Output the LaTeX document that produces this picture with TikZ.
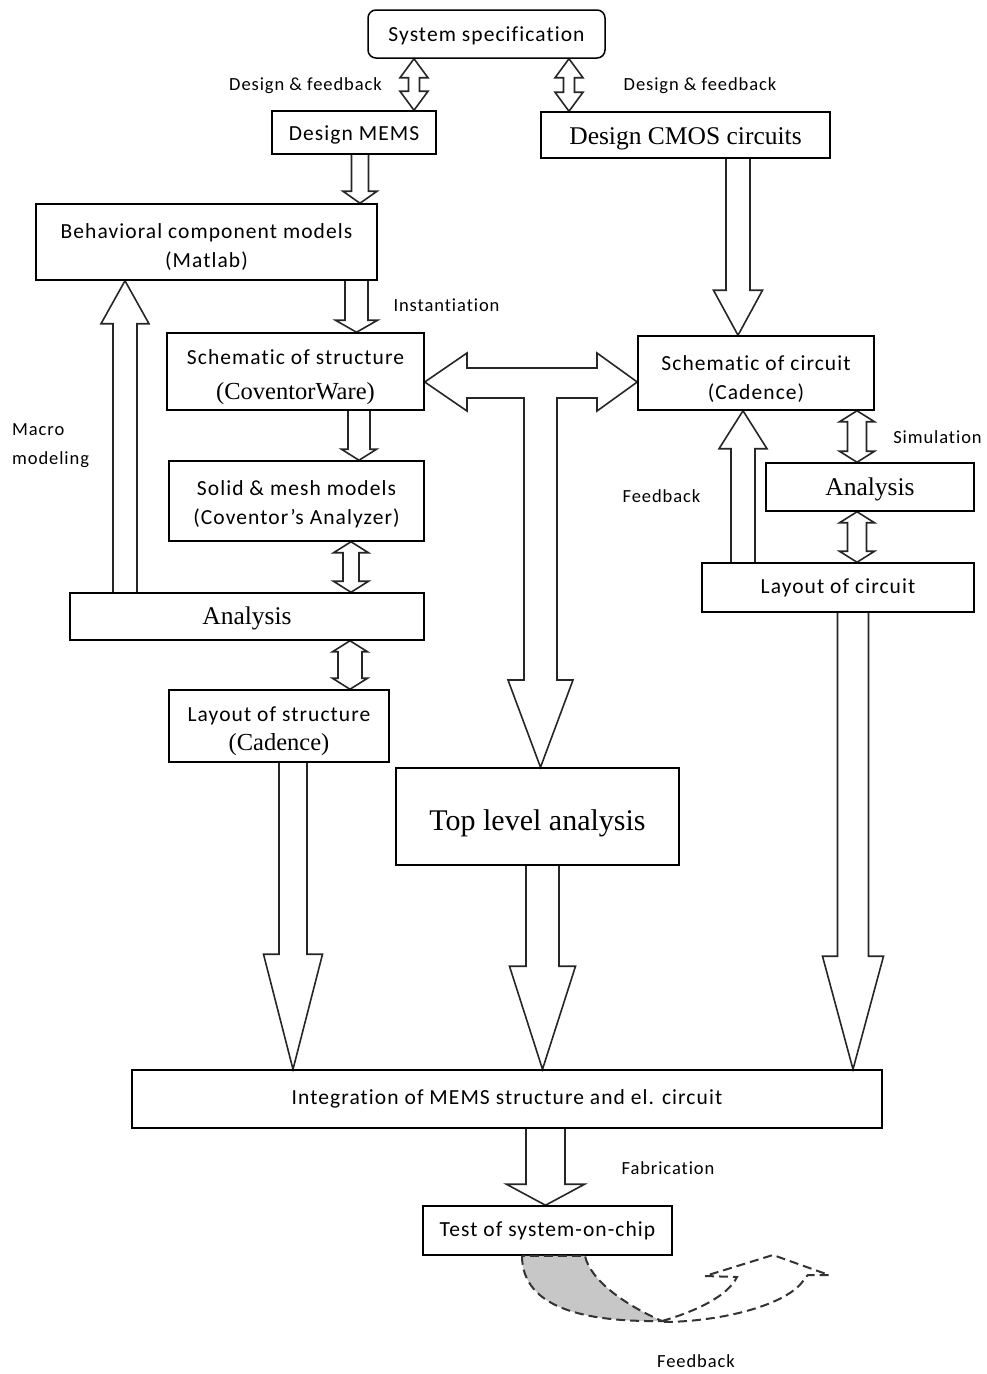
\documentclass[tikz,border=0pt]{standalone}
\usepackage{fontspec}
\usetikzlibrary{calc,backgrounds}
\newfontfamily\sansf{Carlito}[LetterSpace=5, Ligatures=CommonOff]
\newfontfamily\serf{Liberation Serif}
\newcommand\boxtext{\sansf\fontsize{21.5}{29}\selectfont}
\newcommand\labeltext{\sansf\fontsize{18.5}{30}\selectfont}
\newcommand\sertext[1]{\serf\fontsize{#1}{29}\selectfont}
% invisible strut that pushes the first text line of a box down
\newcommand\topstrut[1]{\rule{0pt}{#1}}

% hollow block arrow from #1 to the tip #2; shaft half width #3, head half width #4, head length #5
\newcommand\hollowone[5]{%
  \coordinate (hq) at ($(#2)!#5pt!(#1)$);
  \draw[blockarrow] ($(#1)!#3pt!90:(#2)$) -- ($(hq)!#3pt!90:(#2)$) -- ($(hq)!#4pt!90:(#2)$)
    -- (#2) -- ($(hq)!#4pt!-90:(#2)$) -- ($(hq)!#3pt!-90:(#2)$) -- ($(#1)!#3pt!-90:(#2)$);
}
% hollow block arrow with heads at both ends
\newcommand\hollowtwo[5]{%
  \coordinate (hp) at ($(#1)!#5pt!(#2)$);
  \coordinate (hq) at ($(#2)!#5pt!(#1)$);
  \draw[blockarrow] (#1) -- ($(hp)!#4pt!90:(#2)$) -- ($(hp)!#3pt!90:(#2)$) -- ($(hq)!#3pt!90:(#2)$)
    -- ($(hq)!#4pt!90:(#2)$) -- (#2) -- ($(hq)!#4pt!-90:(#2)$) -- ($(hq)!#3pt!-90:(#2)$)
    -- ($(hp)!#3pt!-90:(#2)$) -- ($(hp)!#4pt!-90:(#2)$) -- cycle;
}

\begin{document}
\begin{tikzpicture}[x=1pt,y=-1pt,
  box/.style={draw=black, line width=1.5pt, inner sep=0pt, align=center, font=\boxtext},
  lower/.style={execute at begin node={\topstrut{#1}}},
  blockarrow/.style={draw=black!85, line width=1.6pt, fill=white, line join=miter},
  lbl/.style={inner sep=0pt, font=\labeltext},
  fbdash/.style={dash pattern=on 9pt off 5pt, line width=2pt, draw=black!80}]

\useasboundingbox (0,0) rectangle (987,1374);

% ---- boxes ----
\node[box, lower=19pt, rounded corners=8pt, minimum width=237pt, minimum height=48pt] (spec) at (486.5,34) {System specification};
\node[box, lower=20pt, minimum width=164pt, minimum height=43pt] (mems) at (354,132.5) {Design MEMS};
\node[box, lower=23.5pt, minimum width=289pt, minimum height=46pt, font=\sertext{25.5}] (cmos) at (685.5,135) {Design CMOS circuits};
\node[box, minimum width=341pt, minimum height=76pt] (beh) at (206.5,242) {\topstrut{24pt}Behavioral component models\\(Matlab)};
\node[box, minimum width=257pt, minimum height=77pt] (sstr) at (295.5,371.5) {\topstrut{26pt}Schematic of structure\\[6pt]{\sertext{24.5}(CoventorWare)}};
\node[box, minimum width=255pt, minimum height=80pt] (solid) at (296.5,501) {\topstrut{21pt}Solid \& mesh models\\(Coventor’s Analyzer)};
\node[box, lower=21.5pt, minimum width=354pt, minimum height=47pt, font=\sertext{25.5}] (anl) at (247,616.5) {Analysis};
\node[box, minimum width=220pt, minimum height=72pt] (lstr) at (279,726) {\topstrut{25pt}Layout of structure\\{\sertext{24.5}(Cadence)}};
\node[box, minimum width=236pt, minimum height=74pt] (scir) at (756,373) {\topstrut{26pt}Schematic of circuit\\(Cadence)};
\node[box, lower=21.5pt, minimum width=208pt, minimum height=48pt, font=\sertext{25.5}] (anr) at (870,487) {Analysis};
\node[box, minimum width=272pt, minimum height=49pt] (lcir) at (838,587.5) {Layout of circuit};
\node[box, lower=34.5pt, minimum width=283pt, minimum height=97pt, font=\sertext{30}] (top) at (537.5,816.5) {Top level analysis};
\node[box, minimum width=750pt, minimum height=58pt] (integ) at (507,1099) {Integration of MEMS structure and el. circuit};
\node[box, minimum width=249pt, minimum height=49pt] (test) at (547.5,1230.5) {Test of system-on-chip};

% ---- labels ----
\node[lbl] (l1) at (305.5,85.5) {Design \& feedback};
\node[lbl] (l2) at (700,85.5) {Design \& feedback};
\node[lbl] (l3) at (446.5,305) {Instantiation};
\node[lbl, anchor=west] (l4) at (12,430) {Macro};
\node[lbl, anchor=west] (l5) at (12,460) {modeling};
\node[lbl] (l6) at (661.5,496) {Feedback};
\node[lbl] (l7) at (937.5,437) {Simulation};
\node[lbl] (l8) at (668,1168) {Fabrication};
\node[lbl] (l9) at (696,1361) {Feedback};

% ---- block arrows (behind the box outlines) ----
\begin{scope}[on background layer]
\fill[white] (0,0) rectangle (987,1374);
\hollowtwo{414,0 |- spec.south}{414,0 |- mems.north}{5.5}{14}{19}
\hollowtwo{569,0 |- spec.south}{569,0 |- cmos.north}{5.5}{14}{19}
\hollowone{360,0 |- mems.south}{360,0 |- beh.north}{8.5}{17}{12}
\hollowone{356.5,0 |- beh.south}{356.5,0 |- sstr.north}{11.5}{21}{12}
\hollowone{359,0 |- sstr.south}{359,0 |- solid.north}{11}{17.5}{11}
\hollowtwo{351,0 |- solid.south}{351,0 |- anl.north}{8}{17.5}{11}
\hollowtwo{350,0 |- anl.south}{350,0 |- lstr.north}{12}{17.5}{11}
\hollowone{125,0 |- anl.north}{125,0 |- beh.south}{12}{24}{43}
\hollowone{738,0 |- cmos.south}{738,0 |- scir.north}{12}{24.5}{45}
\hollowone{743,0 |- lcir.north}{743,0 |- scir.south}{12}{24}{38}
\hollowtwo{857,0 |- scir.south}{857,0 |- anr.north}{9.5}{17.5}{11}
\hollowtwo{857,0 |- anr.south}{857,0 |- lcir.north}{9.5}{17.5}{11}
\hollowone{293,0 |- lstr.south}{293,0 |- integ.north}{14}{29.5}{115}
\hollowone{542.5,0 |- top.south}{542.5,0 |- integ.north}{16.5}{33}{103}
\hollowone{853,0 |- lcir.south}{853,0 |- integ.north}{15.5}{30.5}{113}
\hollowone{545.5,0 |- integ.south}{545.5,0 |- test.north}{19.5}{39}{21}

% T-shaped arrow: structure <-> circuit, and down to the top level analysis
\coordinate (tl) at (sstr.east |- 0,382);
\coordinate (tr) at (scir.west |- 0,382);
\coordinate (tb) at (540.5,0 |- top.north);
\draw[blockarrow] (tl) -- (467,353) -- (467,368) -- (597,368) -- (597,353) -- (tr)
  -- (597,411) -- (597,398) -- (557,398) -- (557,680) -- (573,680) -- (tb)
  -- (508,680) -- (524,680) -- (524,398) -- (467,398) -- (467,411) -- cycle;
\end{scope}

% ---- dashed feedback arrow under the test box ----
\coordinate (fb) at (662,1321);
\fill[black!22] (test.south -| 522,0) .. controls (522,1310) and (590,1322) .. (fb)
  .. controls (625,1305) and (590,1280) .. (test.south -| 585,0) -- cycle;
\draw[fbdash] (test.south -| 522,0) .. controls (522,1310) and (590,1322) .. (fb)
  .. controls (625,1305) and (590,1280) .. (test.south -| 585,0) -- cycle;
\draw[fbdash] (fb) .. controls (700,1310) and (728,1295) .. (737,1277)
  -- (705,1276) -- (773,1255) -- (829,1275) -- (808,1275) -- (805,1278)
  .. controls (790,1305) and (720,1322) .. (662,1322);
\end{tikzpicture}
\end{document}
